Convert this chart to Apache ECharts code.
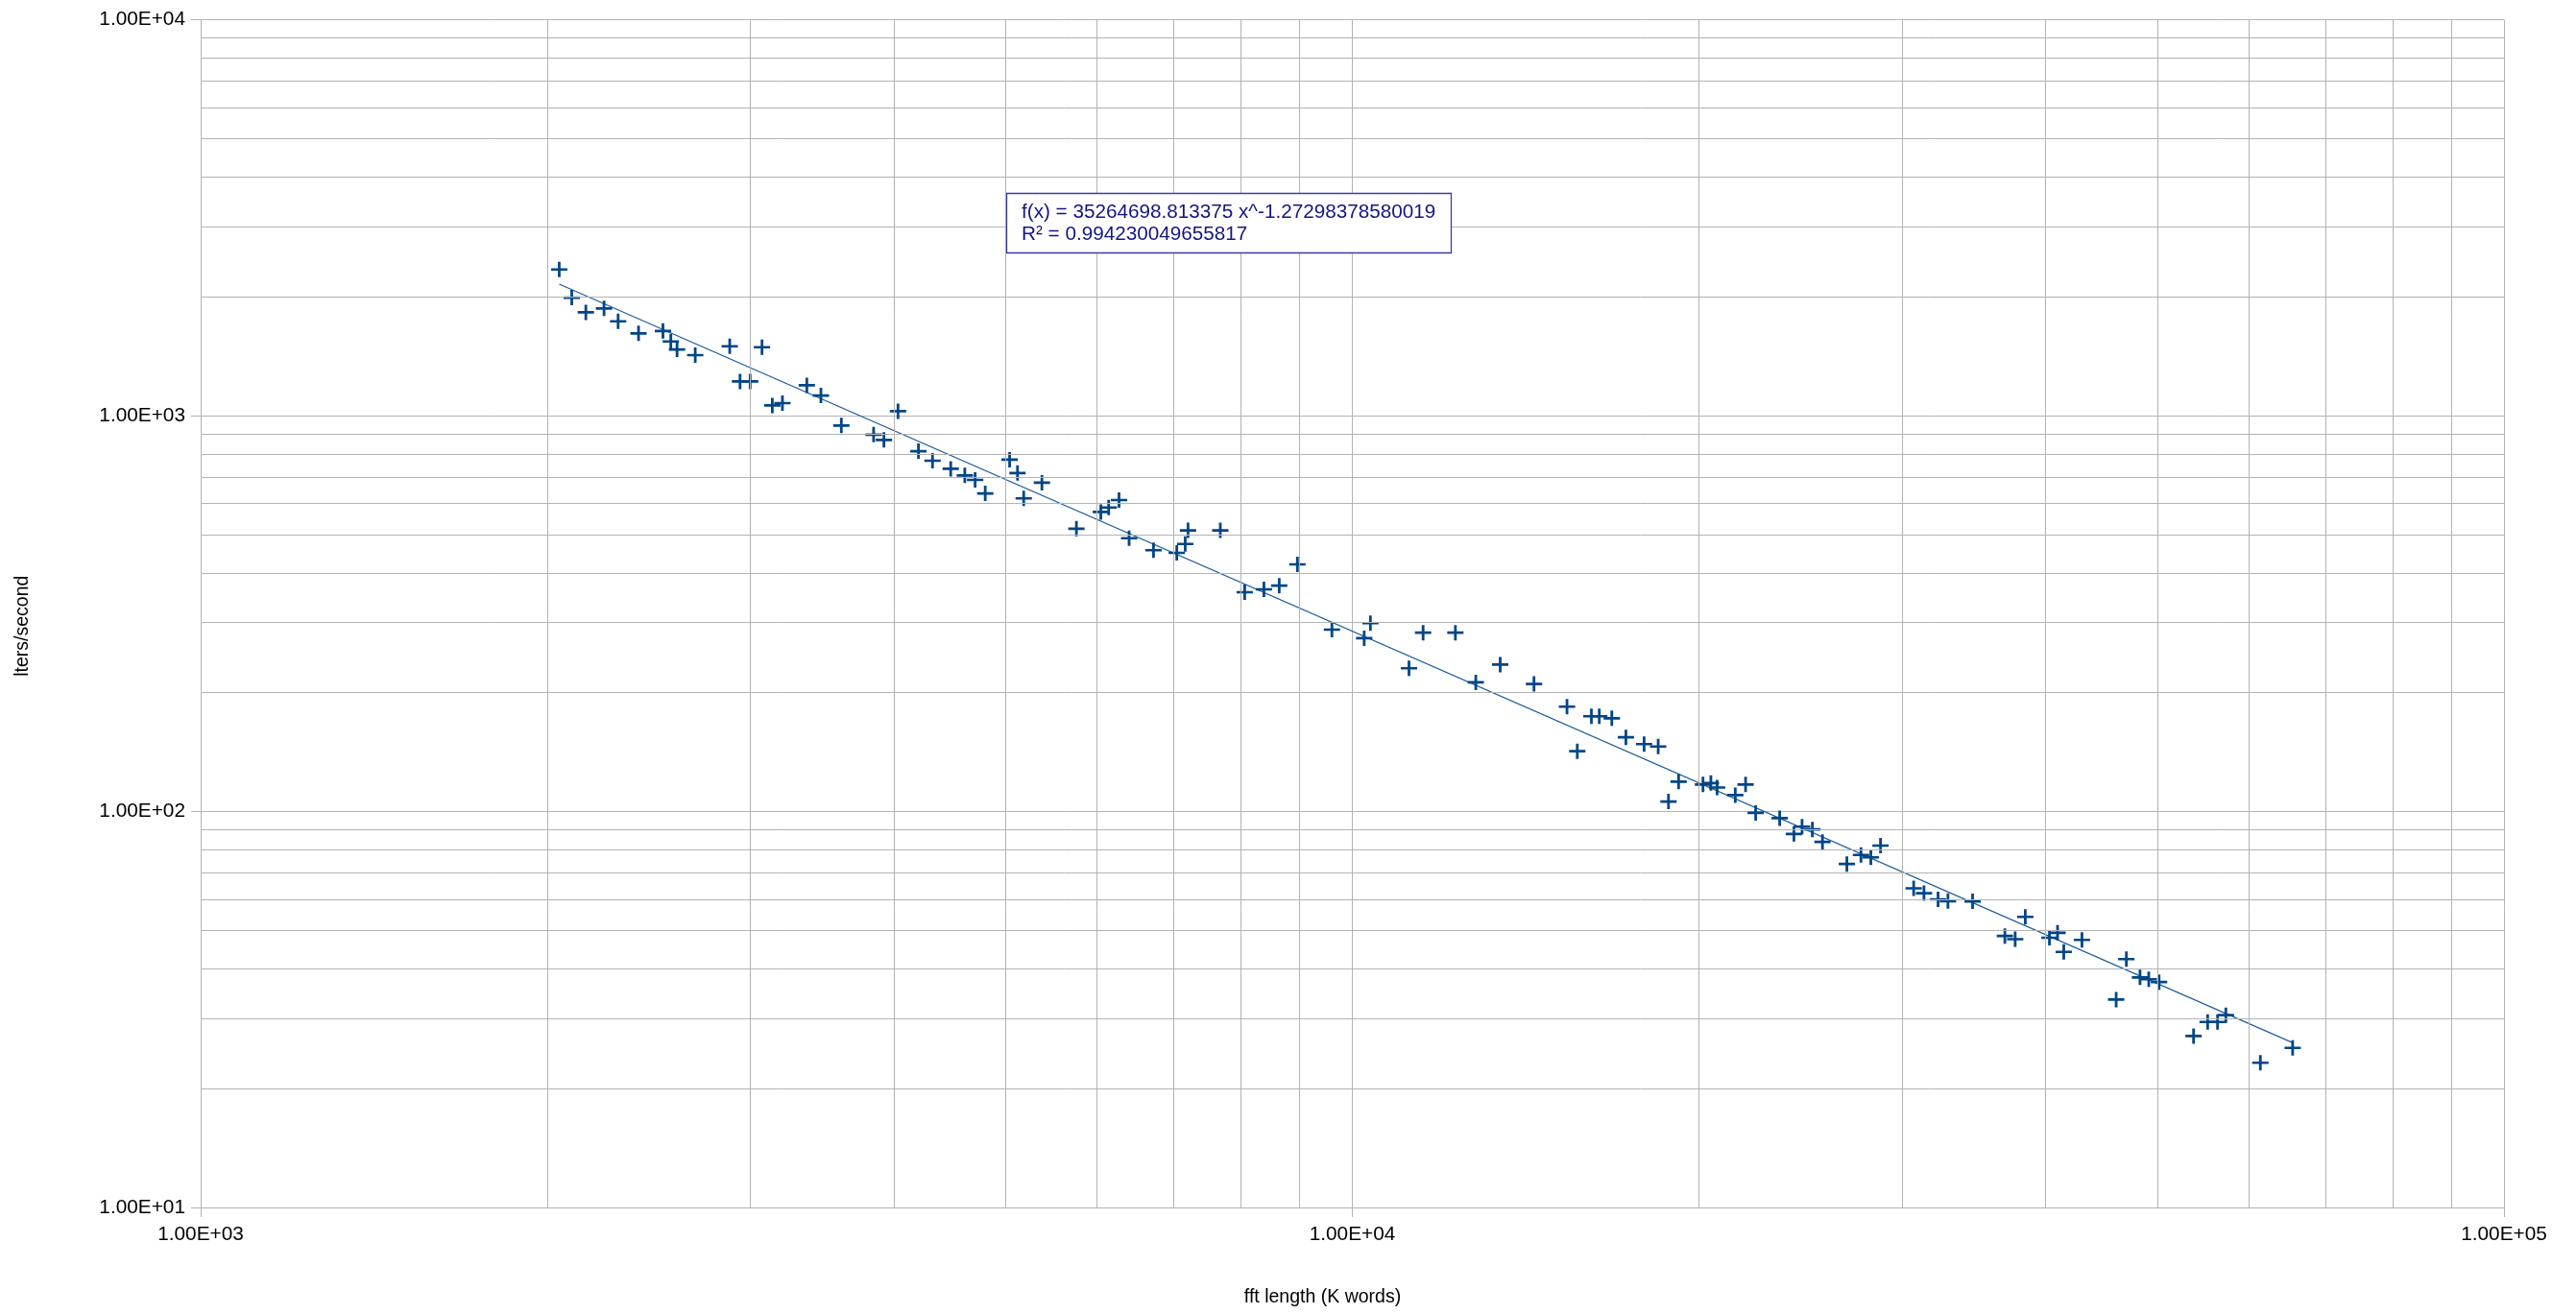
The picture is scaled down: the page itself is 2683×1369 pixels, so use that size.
<!DOCTYPE html>
<html>
<head>
<meta charset="utf-8">
<script src="https://cdn.jsdelivr.net/npm/echarts@6/dist/echarts.min.js"></script>
<style>html,body{margin:0;padding:0;background:#fff}#c{width:2683px;height:1369px}</style>
</head>
<body>
<div id="c"></div>
<script>
// FFT length (K words)
const fftLength = [
  2048, 2100, 2160, 2240, 2304, 2400, 2520, 2560, 2592, 2688,
  2880, 2940, 3000, 3072, 3136, 3200, 3360, 3456, 3600, 3840,
  3920, 4032, 4200, 4320, 4480, 4608, 4704, 4800, 5040, 5120,
  5184, 5376, 5760, 6048, 6144, 6272, 6400, 6720, 7040, 7160,
  7200, 7680, 8064, 8380, 8640, 8960, 9600, 10240, 10368, 11200,
  11520, 12288, 12800, 13440, 14380, 15360, 15680, 16128, 16384, 16800,
  17280, 17920, 18432, 18816, 19200, 20160, 20480, 20736, 21504, 21952,
  22400, 23500, 24180, 24576, 25088, 25600, 26880, 27648, 28200, 28750,
  30720, 31360, 32256, 32900, 34560, 36864, 37632, 38400, 40300, 40960,
  41472, 43008, 46050, 47000, 48300, 49152, 50176, 53760, 55296, 56400,
  57344, 61440, 65536
];
// Iterations per second
const itersPerSec = [
  2339, 1986, 1823, 1865, 1730, 1613, 1636, 1539, 1469, 1421,
  1497, 1220, 1220, 1488, 1061, 1075, 1193, 1124, 944, 895,
  868, 1026, 813, 769, 734, 706, 688, 636, 774, 716,
  618, 677, 518, 571, 586, 612, 490, 457, 450, 474,
  513, 513, 358, 364, 372, 421, 288, 274, 299, 230,
  283, 283, 212, 235, 210, 184, 142, 174, 174, 172,
  154, 148, 146, 106, 119, 117, 118, 115, 110, 117,
  99.2, 96.2, 87.8, 91.6, 90.1, 83.8, 73.7, 77.7, 76.6, 82.0,
  64.0, 62.2, 60.0, 59.4, 59.3, 48.5, 47.6, 54.2, 48.0, 49.4,
  44.2, 47.4, 33.5, 42.4, 38.1, 37.7, 37.1, 27.1, 29.4, 29.4,
  30.6, 23.2, 25.3
];
// Power trendline reported by the chart
const trendCoef = 35264698.813375;
const trendExp = -1.27298378580019;
const trendR2 = 0.994230049655817;

// Axis decades and minor grid multipliers
const xDecades = [1000, 10000, 100000];
const yDecades = [10, 100, 1000, 10000];
const minorSteps = [2, 3, 4, 5, 6, 7, 8, 9];

const FONT = '"Liberation Sans", Arial, sans-serif';
const GRID_COLOR = '#b3b3b3';
const SERIES_COLOR = '#004586';

function sciLabel(v) {
  const e = Math.round(Math.log10(v));
  const m = v / Math.pow(10, e);
  const sign = e < 0 ? '-' : '+';
  return m.toFixed(2) + 'E' + sign + String(Math.abs(e)).padStart(2, '0');
}

const minorX = [];
xDecades.slice(0, -1).forEach(d => minorSteps.forEach(k => minorX.push({ xAxis: d * k })));
const minorY = [];
yDecades.slice(0, -1).forEach(d => minorSteps.forEach(k => minorY.push({ yAxis: d * k })));

const points = fftLength.map((x, i) => [x, itersPerSec[i]]);
const xMin = Math.min(...fftLength), xMax = Math.max(...fftLength);
const trendData = [xMin, xMax].map(x => [x, trendCoef * Math.pow(x, trendExp)]);

const crossPath = 'path://M7.1,0H9.9V7.1H17V9.9H9.9V17H7.1V9.9H0V7.1H7.1Z';

const chart = echarts.init(document.getElementById('c'), null, { renderer: 'canvas' });
chart.setOption({
  animation: false,
  backgroundColor: '#ffffff',
  textStyle: { fontFamily: FONT },
  title: {
    text: 'f(x) = ' + trendCoef + ' x^' + trendExp + '\nR² = ' + trendR2,
    left: 1048,
    top: 201,
    padding: [8, 16, 8, 16],
    borderColor: '#3b3ba6',
    borderWidth: 1.3,
    backgroundColor: '#ffffff',
    textStyle: {
      fontFamily: FONT,
      fontSize: 20.7,
      fontWeight: 'normal',
      color: '#15157f',
      lineHeight: 23.6
    },
    z: 10
  },
  grid: { left: 209, right: 75, top: 20.5, bottom: 111, containLabel: false },
  xAxis: {
    type: 'log',
    logBase: 10,
    min: xDecades[0],
    max: xDecades[xDecades.length - 1],
    name: 'fft length (K words)',
    nameLocation: 'middle',
    nameGap: 84,
    nameTextStyle: { fontFamily: FONT, fontSize: 19.5, color: '#000', padding: [0, 62, 0, 0] },
    axisLine: { show: true, lineStyle: { color: GRID_COLOR, width: 1 } },
    axisTick: { show: true, inside: false, length: 10, lineStyle: { color: GRID_COLOR, width: 1 } },
    axisLabel: { formatter: sciLabel, fontFamily: FONT, fontSize: 20.8, color: '#000', margin: 18 },
    splitLine: { show: true, lineStyle: { color: GRID_COLOR, width: 1 } }
  },
  yAxis: {
    type: 'log',
    logBase: 10,
    min: yDecades[0],
    max: yDecades[yDecades.length - 1],
    name: 'lters/second',
    nameLocation: 'middle',
    nameRotate: 90,
    nameGap: 175,
    nameTextStyle: { fontFamily: FONT, fontSize: 19.5, color: '#000', padding: [0, 26, 0, 0] },
    axisLine: { show: true, lineStyle: { color: GRID_COLOR, width: 1 } },
    axisTick: { show: true, inside: false, length: 10, lineStyle: { color: GRID_COLOR, width: 1 } },
    axisLabel: { formatter: sciLabel, fontFamily: FONT, fontSize: 20.8, color: '#000', margin: 16 },
    splitLine: { show: true, lineStyle: { color: GRID_COLOR, width: 1 } }
  },
  series: [
    {
      name: 'minor grid',
      type: 'line',
      data: [],
      z: 1,
      silent: true,
      markLine: {
        silent: true,
        symbol: ['none', 'none'],
        label: { show: false },
        lineStyle: { color: GRID_COLOR, width: 1, type: 'solid' },
        emphasis: { disabled: true },
        data: minorX.concat(minorY)
      }
    },
    {
      name: 'trend',
      type: 'line',
      data: trendData,
      showSymbol: false,
      symbol: 'none',
      z: 3,
      silent: true,
      lineStyle: { color: '#1f5e9e', width: 1.3 }
    },
    {
      name: 'iters',
      type: 'scatter',
      data: points,
      symbol: crossPath,
      symbolSize: [17, 16],
      z: 4,
      itemStyle: { color: SERIES_COLOR, opacity: 1 }
    }
  ]
});
</script>
</body>
</html>
